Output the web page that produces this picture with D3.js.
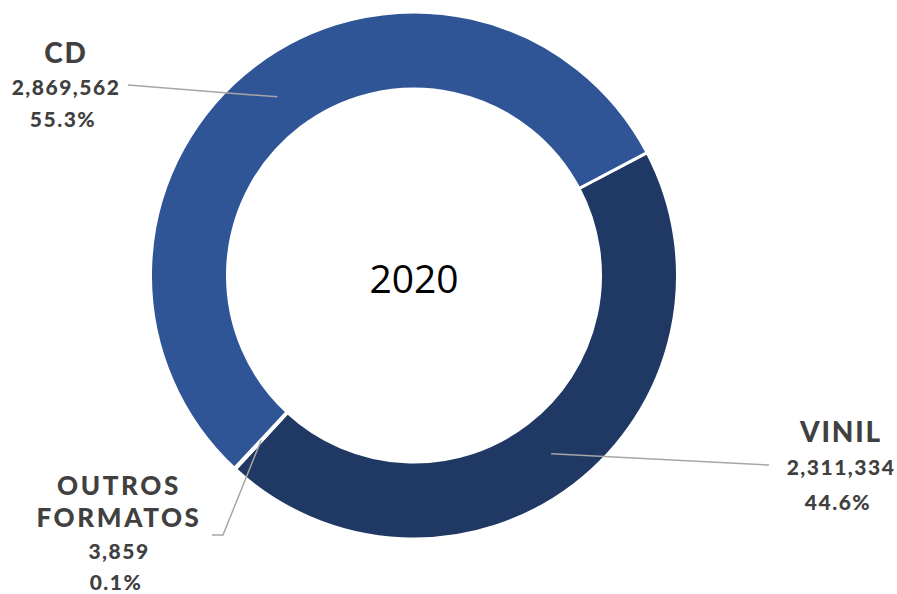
<!DOCTYPE html>
<html>
<head>
<meta charset="utf-8">
<script src="https://cdn.jsdelivr.net/npm/d3@7"></script>
<style>
  html, body { margin: 0; padding: 0; background: #fff; }
  svg { display: block; }
</style>
</head>
<body>
<svg id="chart" width="897" height="594"></svg>
<script>
// ---- data ----
const categories = ["VINIL", "OUTROS FORMATOS", "CD"];
const values = [2311334, 3859, 2869562];
const colors = ["#203864", "#7f7f7f", "#2F5597"];
const centerTitle = "2020";

// ---- layout ----
const svg = d3.select("#chart");
const cx = 414, cy = 275.5;
const outerR = 263.5, innerR = 186.5;
const startDeg = 62.2;

const pie = d3.pie().sort(null).value(d => d)
  .startAngle(startDeg * Math.PI / 180)
  .endAngle(startDeg * Math.PI / 180 + 2 * Math.PI);
const arcs = pie(values);
const arc = d3.arc().innerRadius(innerR).outerRadius(outerR);

const g = svg.append("g").attr("transform", `translate(${cx},${cy})`);
g.selectAll("path.slice").data(arcs).enter().append("path")
  .attr("class", "slice")
  .attr("d", arc)
  .attr("fill", (d, i) => colors[i])
  .attr("stroke", "#fff")
  .attr("stroke-width", 3)
  .attr("stroke-linejoin", "miter");

g.append("text")
  .attr("x", 0).attr("y", 293 - cy)
  .attr("text-anchor", "middle")
  .attr("font-family", "'Open Sans', sans-serif")
  .attr("font-size", 39)
  .attr("fill", "#000")
  .text(centerTitle);

const total = d3.sum(values);
const fmtNum = d3.format(",");
const fmtPct = d3.format(".1%");

// label placement (layout only)
const labelLayout = [
  { x: 841, lines: [442], size: 28, ls: 1.8, numY: 475, pctY: 510, path: [[769, 465]] },
  { x: 119, lines: [495, 527], size: 26, ls: 2.6, numY: 559, pctY: 590, path: [[223, 535], [212, 535]] },
  { x: 66, lines: [63], size: 28, ls: 1.8, numY: 95, pctY: 127, path: [[128, 85]] }
];
const nameLines = categories.map(c => c === "OUTROS FORMATOS" ? ["OUTROS", "FORMATOS"] : [c]);

const labelColor = "#404040";
const fontFam = "Lato, 'Open Sans', sans-serif";

// leader lines
arcs.forEach((a, i) => {
  const c = arc.centroid(a);
  const pts = [[cx + c[0], cy + c[1]]].concat(labelLayout[i].path);
  svg.append("path")
    .attr("d", d3.line()(pts))
    .attr("fill", "none")
    .attr("stroke", "#A6A6A6")
    .attr("stroke-width", 1.5);
});

arcs.forEach((a, i) => {
  const L = labelLayout[i];
  nameLines[i].forEach((t, k) => {
    svg.append("text")
      .attr("x", L.x).attr("y", L.lines[k])
      .attr("text-anchor", "middle")
      .attr("font-family", fontFam)
      .attr("font-weight", 900)
      .attr("font-size", L.size)
      .attr("letter-spacing", L.ls)
      .attr("fill", labelColor)
      .text(t);
  });
  svg.append("text")
    .attr("x", L.x).attr("y", L.numY)
    .attr("text-anchor", "middle")
    .attr("font-family", fontFam)
    .attr("font-weight", 900)
    .attr("font-size", 21)
    .attr("letter-spacing", 1.5)
    .attr("fill", labelColor)
    .text(fmtNum(values[i]));
  svg.append("text")
    .attr("x", L.x - 3).attr("y", L.pctY)
    .attr("text-anchor", "middle")
    .attr("font-family", fontFam)
    .attr("font-weight", 900)
    .attr("font-size", 21)
    .attr("letter-spacing", 1.5)
    .attr("fill", labelColor)
    .text(fmtPct(values[i] / total));
});
</script>
</body>
</html>
